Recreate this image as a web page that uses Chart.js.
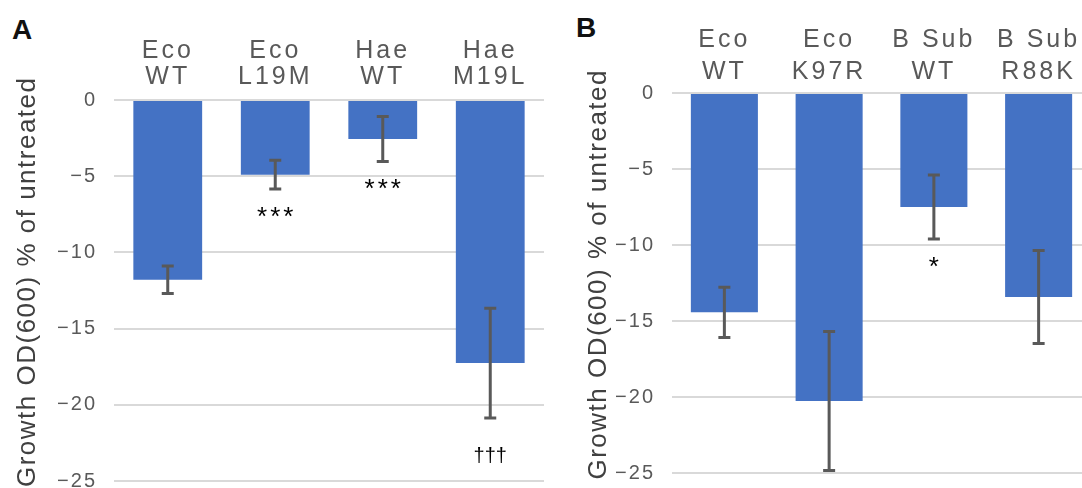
<!DOCTYPE html>
<html>
<head>
<meta charset="utf-8">
<script src="https://cdn.jsdelivr.net/npm/chart.js@4.4.1/dist/chart.umd.min.js"></script>
<style>
  html, body { margin: 0; padding: 0; background: #fff; overflow: hidden; }
  body { width: 1082px; height: 488px; position: relative; }
  canvas { position: absolute; top: 0; }
  #chartA { left: 0; }
  #chartB { left: 545px; }
  .panel { position: absolute; font: bold 28px "Liberation Sans", Arial, sans-serif; color: #111; }
</style>
</head>
<body>
<div class="panel" style="left:12px;top:14px">A</div>
<div class="panel" style="left:576px;top:12px">B</div>
<canvas id="chartA" width="545" height="488"></canvas>
<canvas id="chartB" width="546" height="488"></canvas>
<script>
// panel A
const catsA = [['Eco', 'WT'], ['Eco', 'L19M'], ['Hae', 'WT'], ['Hae', 'M19L']];
const valsA = [-11.8, -4.9, -2.56, -17.26];
const errA = [0.9, 0.94, 1.47, 3.6];
const marksA = ['', '***', '***', '†††'];

// panel B
const catsB = [['Eco', 'WT'], ['Eco', 'K97R'], ['B Sub', 'WT'], ['B Sub', 'R88K']];
const valsB = [-14.43, -20.26, -7.5, -13.42];
const errB = [1.65, 4.57, 2.1, 3.06];
const marksB = ['', '', '*', ''];

const yTicks = [0, -5, -10, -15, -20, -25];

const FONT = '"Liberation Sans", Arial, sans-serif';

// wider tracking for axis text, like the original
function tracked(fn, ctx, sp) {
    return function (area) {
        ctx.save();
        ctx.letterSpacing = sp;
        fn(area);
        ctx.restore();
    };
}
const spacing = {
    id: 'spacing',
    beforeDraw(chart) {
        Object.values(chart.scales).forEach(s => {
            if (s._spaced) return;
            s.drawLabels = tracked(s.drawLabels.bind(s), s.ctx, s.axis === 'x' ? '3px' : '2px');
            s.drawTitle = tracked(s.drawTitle.bind(s), s.ctx, '1.5px');
            s._spaced = true;
        });
    }
};

const errorBars = {
    id: 'errorBars',
    afterDatasetsDraw(chart) {
        const ctx = chart.ctx;
        const y = chart.scales.y;
        const ds = chart.data.datasets[0];
        const meta = chart.getDatasetMeta(0);
        ctx.save();
        ctx.strokeStyle = '#595959';
        ctx.lineWidth = 3;
        meta.data.forEach((bar, i) => {
            const v = ds.data[i], e = ds.errors[i];
            const x = bar.x;
            const yTop = y.getPixelForValue(v + e);
            const yBot = y.getPixelForValue(v - e);
            ctx.beginPath();
            ctx.moveTo(x, yTop); ctx.lineTo(x, yBot);
            ctx.moveTo(x - 6, yTop); ctx.lineTo(x + 6, yTop);
            ctx.moveTo(x - 6, yBot); ctx.lineTo(x + 6, yBot);
            ctx.stroke();
            const m = ds.marks[i];
            if (m) {
                ctx.fillStyle = '#000';
                ctx.textAlign = 'center';
                ctx.textBaseline = 'alphabetic';
                if (m.includes('†')) {
                    ctx.font = '20px ' + FONT;
                    ctx.letterSpacing = '0px';
                    ctx.fillText(m, x, yBot + 44);
                } else {
                    ctx.font = '26px ' + FONT;
                    ctx.letterSpacing = '3px';
                    ctx.fillText(m, x + 1.5, yBot + 36);
                }
                ctx.letterSpacing = '0px';
            }
        });
        ctx.restore();
    }
};

function makeChart(id, cats, vals, errs, marks, cfg) {
    return new Chart(document.getElementById(id), {
        type: 'bar',
        data: {
            labels: cats,
            datasets: [{
                data: vals,
                errors: errs,
                marks: marks,
                backgroundColor: '#4472C4',
                barPercentage: 0.64,
                categoryPercentage: 1.0
            }]
        },
        options: {
            responsive: false,
            animation: false,
            layout: { padding: { left: cfg.padLeft, right: cfg.padRight, top: 0, bottom: cfg.padBottom } },
            plugins: { legend: { display: false }, tooltip: { enabled: false } },
            scales: {
                x: {
                    position: 'top',
                    grid: { display: false, drawTicks: false },
                    border: { display: false },
                    ticks: {
                        color: '#595959',
                        font: { family: FONT, size: 25, lineHeight: cfg.lineHeight },
                        padding: cfg.labelPad,
                        maxRotation: 0,
                        autoSkip: false
                    },
                    afterFit: s => {
                        s.height = cfg.xHeight;
                        s.paddingLeft = 0; s.paddingRight = 0;
                    }
                },
                y: {
                    min: -25,
                    max: 0,
                    afterBuildTicks: s => { s.ticks = yTicks.map(v => ({ value: v })); },
                    grid: { color: '#D9D9D9', lineWidth: 2, drawTicks: false },
                    border: { display: false },
                    ticks: {
                        color: '#595959',
                        font: { family: FONT, size: 20 },
                        padding: 17,
                        callback: v => String(v).replace('-', '\u2212')
                    },
                    title: {
                        display: true,
                        text: '  Growth OD(600) % of untreated',
                        color: '#404040',
                        font: { family: FONT, size: 26 },
                        padding: { top: 12, bottom: 0 }
                    },
                    afterFit: s => {
                        s.width = cfg.yWidth;
                        s.paddingTop = 0; s.paddingBottom = 0;
                    }
                }
            }
        },
        plugins: [spacing, errorBars]
    });
}

makeChart('chartA', catsA, valsA, errA, marksA,
    { padLeft: 0, padRight: 1, padBottom: 7, xHeight: 100, yWidth: 114, lineHeight: 1.04, labelPad: 10 });
makeChart('chartB', catsB, valsB, errB, marksB,
    { padLeft: 26, padRight: 0, padBottom: 15, xHeight: 93, yWidth: 101, lineHeight: 1.27, labelPad: 5 });
</script>
</body>
</html>
